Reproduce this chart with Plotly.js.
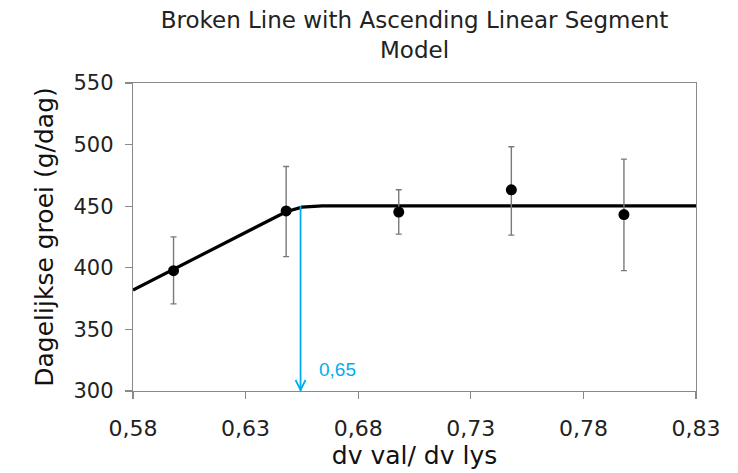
<!DOCTYPE html>
<html>
<head>
<meta charset="utf-8">
<script src="https://cdn.plot.ly/plotly-3.0.1.min.js"></script>
<style>html,body{margin:0;padding:0;background:#fff;}#chart{width:738px;height:473px;}</style>
</head>
<body>
<div id="chart"></div>
<script>
// Observed data (dv val / dv lys vs daily growth)
const xVals = [0.598, 0.648, 0.698, 0.748, 0.798];
const yVals = [397.7, 446.2, 445.2, 463.3, 443.2];
const errPlus = [27.4, 36.0, 18.1, 34.9, 45.0];
const errMinus = [27.0, 37.1, 17.9, 36.8, 45.5];

// Fitted broken-line model
const fitX = [0.58, 0.648, 0.655, 0.664, 0.83];
const fitY = [382, 445.5, 449.2, 450.2, 450.2];

// Breakpoint
const breakX = 0.6544;
const breakYTop = 450.2;
const breakYBottom = 300;
const breakLabel = "0,65";

const xTickVals = [0.58, 0.63, 0.68, 0.73, 0.78, 0.83];
const xTickText = ["0,58", "0,63", "0,68", "0,73", "0,78", "0,83"];
const yTickVals = [300, 350, 400, 450, 500, 550];

const font = "DejaVu Sans, Verdana, sans-serif";
const blue = "#00AEEF";
const axisGrey = "#8a8a8a";

const traces = [
  {
    x: fitX, y: fitY, type: "scatter", mode: "lines",
    line: {color: "#000", width: 3.2}, hoverinfo: "skip", showlegend: false
  },
  {
    x: xVals, y: yVals, type: "scatter", mode: "markers",
    marker: {color: "#000", size: 11},
    error_y: {type: "data", symmetric: false, array: errPlus, arrayminus: errMinus,
              color: "#7a7a7a", thickness: 1.4, width: 3},
    showlegend: false
  },
  {
    x: [breakX, breakX], y: [breakYTop, breakYBottom], type: "scatter", mode: "lines",
    line: {color: blue, width: 1.8}, hoverinfo: "skip", showlegend: false
  }
];

const layout = {
  width: 738, height: 473,
  margin: {l: 133, r: 42, t: 83, b: 82},
  paper_bgcolor: "#fff", plot_bgcolor: "#fff",
  showlegend: false,
  title: {
    text: "Broken Line with Ascending Linear Segment<br>Model",
    font: {family: font, size: 23, color: "#222"},
    x: 0.5, xref: "paper", xanchor: "center",
    y: 0.94, yref: "container", yanchor: "top"
  },
  xaxis: {
    range: [0.58, 0.83], tickmode: "array", tickvals: xTickVals, ticktext: xTickText,
    showgrid: false, zeroline: false,
    showline: true, linecolor: axisGrey, linewidth: 1.3, mirror: true,
    ticks: "outside", ticklen: 7, tickcolor: axisGrey, tickwidth: 1.3,
    tickfont: {family: font, size: 22, color: "#222"},
    ticklabelstandoff: 10,
    title: {text: "dv val/ dv lys", font: {family: font, size: 25, color: "#111"}, standoff: 2}
  },
  yaxis: {
    range: [300, 550], tickmode: "array", tickvals: yTickVals,
    showgrid: false, zeroline: false,
    showline: true, linecolor: axisGrey, linewidth: 1.3, mirror: true,
    ticks: "outside", ticklen: 7, tickcolor: axisGrey, tickwidth: 1.3,
    tickfont: {family: font, size: 21, color: "#222"},
    ticklabelstandoff: 7,
    title: {text: "Dagelijkse groei (g/dag)", font: {family: font, size: 25, color: "#111"}, standoff: 12}
  },
  shapes: [
    {
      type: "path", xref: "x", yref: "y",
      xsizemode: "pixel", ysizemode: "pixel",
      xanchor: breakX, yanchor: breakYBottom,
      path: "M-5,11 L0,1 L5,11",
      line: {color: blue, width: 1.8}
    }
  ],
  annotations: [
    {
      x: breakX, y: breakYBottom, xref: "x", yref: "y",
      text: breakLabel, showarrow: false,
      xanchor: "left", yanchor: "middle", xshift: 16, yshift: 22,
      font: {family: "Liberation Sans, Arial, sans-serif", size: 19, color: blue}
    }
  ]
};

Plotly.newPlot("chart", traces, layout, {displayModeBar: false, staticPlot: true});
</script>
</body>
</html>
